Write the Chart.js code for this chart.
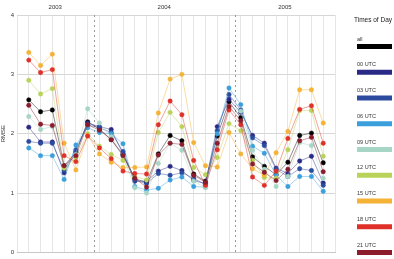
<!DOCTYPE html>
<html>
<head>
<meta charset="utf-8">
<script src="https://cdn.jsdelivr.net/npm/chart.js@4/dist/chart.umd.min.js"></script>
<style>
  html, body { margin: 0; padding: 0; background: #fff; }
</style>
</head>
<body>
<canvas id="chart" width="394" height="259"></canvas>
<script>
// Monthly points, Jul 2003 - Aug 2005
const months = [
  '2003-07', '2003-08', '2003-09', '2003-10', '2003-11', '2003-12',
  '2004-01', '2004-02', '2004-03', '2004-04', '2004-05', '2004-06',
  '2004-07', '2004-08', '2004-09', '2004-10', '2004-11', '2004-12',
  '2005-01', '2005-02', '2005-03', '2005-04', '2005-05', '2005-06', '2005-07', '2005-08'
];

const seriesNames = ['all', '00 UTC', '03 UTC', '06 UTC', '09 UTC', '12 UTC', '15 UTC', '18 UTC', '21 UTC'];
const seriesColors = ['#000000', '#2a2a86', '#2c4a9e', '#3a9fdb', '#a7d6c6', '#b9d35a', '#f4b236', '#e0302a', '#8b1c2c'];

const rmseAll  = [2.57, 2.37, 2.40, 1.46, 1.68, 2.20, 2.08, 1.90, 1.65, 1.24, 1.18, 1.66, 1.97, 1.88, 1.32, 1.20, 1.96, 2.54, 2.27, 1.61, 1.45, 1.31, 1.52, 1.97, 2.01, 1.51];
const rmse00   = [2.11, 1.86, 1.86, 1.34, 1.70, 2.18, 2.12, 2.07, 1.66, 1.20, 1.20, 1.37, 1.45, 1.38, 1.21, 1.16, 2.12, 2.58, 2.36, 1.97, 1.84, 1.42, 1.33, 1.54, 1.62, 1.17];
const rmse03   = [1.87, 1.84, 1.84, 1.38, 1.73, 2.15, 2.10, 2.02, 1.70, 1.22, 1.16, 1.33, 1.30, 1.34, 1.25, 1.14, 2.05, 2.66, 2.40, 1.93, 1.80, 1.40, 1.28, 1.41, 1.38, 1.13];
const rmse06   = [1.76, 1.63, 1.63, 1.23, 1.81, 2.10, 2.02, 2.00, 1.83, 1.11, 1.05, 1.08, 1.22, 1.27, 1.11, 1.10, 2.00, 2.77, 2.49, 1.79, 1.67, 1.30, 1.11, 1.28, 1.28, 1.03];
const rmse09   = [2.29, 2.07, 2.12, 1.44, 1.65, 2.42, 2.18, 1.95, 1.62, 1.09, 1.00, 1.50, 1.84, 1.72, 1.20, 1.09, 1.80, 2.45, 2.38, 1.72, 1.40, 1.11, 1.28, 1.85, 1.80, 1.25];
const rmse12   = [2.90, 2.67, 2.76, 1.42, 1.60, 2.00, 1.79, 1.65, 1.55, 1.28, 1.22, 2.02, 2.36, 2.12, 1.43, 1.31, 1.60, 2.17, 2.05, 1.55, 1.26, 1.25, 1.73, 2.39, 2.39, 1.62];
const rmse15   = [3.37, 3.15, 3.34, 1.84, 1.39, 1.97, 1.66, 1.52, 1.43, 1.43, 1.44, 2.35, 2.92, 3.00, 1.85, 1.46, 1.44, 2.02, 1.66, 1.41, 1.30, 1.68, 2.04, 2.74, 2.74, 2.18];
const rmse18   = [3.24, 3.03, 3.08, 1.63, 1.53, 1.96, 1.76, 1.58, 1.37, 1.33, 1.32, 2.15, 2.55, 2.32, 1.55, 1.13, 1.73, 2.40, 2.15, 1.27, 1.13, 1.37, 1.92, 2.41, 2.47, 1.84];
const rmse21   = [2.48, 2.16, 2.14, 1.46, 1.63, 2.15, 2.06, 1.90, 1.63, 1.25, 1.10, 1.64, 1.84, 1.82, 1.30, 1.18, 1.84, 2.46, 2.22, 1.49, 1.35, 1.21, 1.40, 1.88, 1.94, 1.36];

const seriesValues = [rmseAll, rmse00, rmse03, rmse06, rmse09, rmse12, rmse15, rmse18, rmse21];

const yTicks = [0, 1, 2, 3, 4];

function withAlpha(hex, a) {
  const n = parseInt(hex.slice(1), 16);
  return `rgba(${(n >> 16) & 255},${(n >> 8) & 255},${n & 255},${a})`;
}

// x position of a month = its index + 1 (one empty slot at each end)
const datasets = seriesNames.map((name, i) => ({
  label: name,
  data: seriesValues[i].map((v, j) => ({ x: j + 1, y: v })),
  borderColor: withAlpha(seriesColors[i], 0.45),
  borderWidth: 1,
  backgroundColor: seriesColors[i],
  pointBackgroundColor: seriesColors[i],
  pointBorderColor: withAlpha(seriesColors[i], 0.5),
  pointBorderWidth: 1,
  pointRadius: 2.2,
  tension: 0
})).reverse();

// Year boundaries, year labels and the right-hand legend
const yearsPlugin = {
  id: 'years',
  beforeDatasetsDraw(chart) {
    const { ctx, chartArea, scales: { x } } = chart;
    ctx.save();
    ctx.strokeStyle = '#9a9a9a';
    ctx.lineWidth = 1;
    ctx.setLineDash([2, 3]);
    for (let j = 1; j < months.length; j++) {
      if (months[j].slice(0, 4) !== months[j - 1].slice(0, 4)) {
        const px = Math.round(x.getPixelForValue(j + 0.5)) + 0.5;
        ctx.beginPath();
        ctx.moveTo(px, chartArea.top);
        ctx.lineTo(px, chartArea.bottom);
        ctx.stroke();
      }
    }
    ctx.restore();
  },
  afterDraw(chart) {
    const { ctx, scales: { x } } = chart;
    ctx.save();
    ctx.font = '6px "Liberation Sans", Arial, sans-serif';
    ctx.fillStyle = '#333';
    ctx.textAlign = 'center';
    ctx.textBaseline = 'middle';
    const years = [...new Set(months.map(m => m.slice(0, 4)))];
    years.forEach(yr => {
      const first = months.findIndex(m => m.startsWith(yr));
      const last = months.length - 1 - [...months].reverse().findIndex(m => m.startsWith(yr));
      const lo = first === 0 ? x.min : first + 0.5;
      const hi = last === months.length - 1 ? x.max : last + 1.5;
      ctx.fillText(yr, x.getPixelForValue((lo + hi) / 2), 7);
    });

    // legend: label above a colour bar
    ctx.textAlign = 'left';
    ctx.font = '6.5px "Liberation Sans", Arial, sans-serif';
    ctx.fillStyle = '#222';
    ctx.fillText('Times of Day', 354, 20);
    ctx.font = '5.5px "Liberation Sans", Arial, sans-serif';
    seriesNames.forEach((name, i) => {
      const y0 = 39 + i * 25.75;
      ctx.fillStyle = '#333';
      ctx.fillText(name, 357, y0);
      ctx.fillStyle = seriesColors[i];
      ctx.fillRect(357, y0 + 5, 35, 5);
    });
    ctx.restore();
  }
};

new Chart(document.getElementById('chart').getContext('2d'), {
  type: 'line',
  data: { datasets: datasets },
  options: {
    responsive: false,
    animation: false,
    layout: { padding: { top: 15, right: 59, bottom: 6, left: 0 } },
    plugins: {
      legend: { display: false },
      tooltip: { enabled: false }
    },
    scales: {
      x: {
        type: 'linear',
        min: 0,
        max: months.length + 1,
        ticks: { display: false, stepSize: 1 },
        grid: { color: '#e6e6e6', drawTicks: false },
        border: { color: '#c8c8c8' },
        afterFit: s => { s.height = 0; }
      },
      y: {
        min: yTicks[0],
        max: yTicks[yTicks.length - 1],
        afterBuildTicks: s => { s.ticks = yTicks.map(v => ({ value: v })); },
        ticks: {
          font: { size: 6, family: '"Liberation Sans", Arial, sans-serif' },
          color: '#333',
          padding: 3
        },
        grid: { color: '#d6d6d6', drawTicks: false },
        border: { display: false },
        title: {
          display: true,
          text: 'RMSE',
          font: { size: 6, family: '"Liberation Sans", Arial, sans-serif' },
          color: '#333',
          padding: 0
        },
        afterFit: s => { s.width = 17; }
      }
    }
  },
  plugins: [yearsPlugin]
});
</script>
</body>
</html>
